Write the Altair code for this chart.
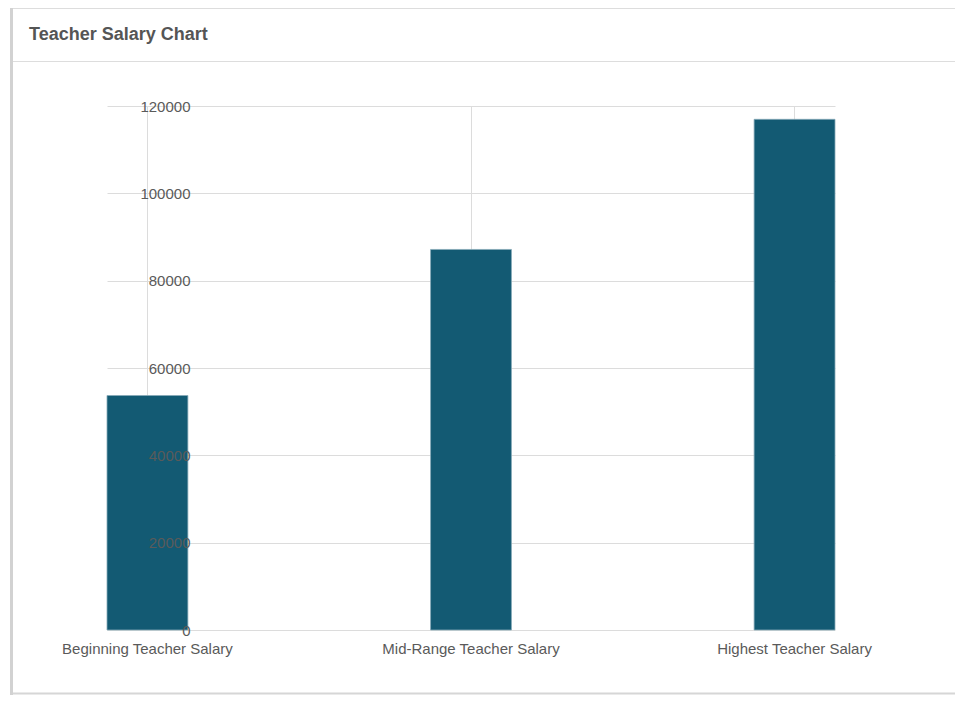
import altair as alt
import pandas as pd

categories = ["Beginning Teacher Salary", "Mid-Range Teacher Salary", "Highest Teacher Salary"]
salaries = [53700, 87150, 116950]
y_ticks = [0, 20000, 40000, 60000, 80000, 100000, 120000]
chart_title = "Teacher Salary Chart"

df = pd.DataFrame({"category": categories, "salary": salaries})

W, H = 728, 524
FONT = "Liberation Sans"
BAR = "#135A73"
GRID = "#dcdcdc"
LABEL = "#5a5a5a"

x_scale = alt.Scale(paddingInner=0.75, paddingOuter=0)
x_axis = alt.Axis(grid=True, gridColor=GRID, gridWidth=1, bandPosition=0.5,
                  domain=False, ticks=False, tickSize=0, labelAngle=0,
                  labelPadding=11, labelFontSize=15, labelColor=LABEL,
                  labelFont=FONT, zindex=0)

y_scale = alt.Scale(domain=[0, 120000], nice=False)

bars = alt.Chart(df).mark_bar(color=BAR, stroke="#86aab8", strokeWidth=0.8).encode(
    x=alt.X("category:N", sort=categories, title=None, scale=x_scale, axis=x_axis),
    y=alt.Y("salary:Q", title=None, scale=y_scale,
            axis=alt.Axis(values=y_ticks, grid=True, gridColor=GRID, labels=False,
                          domain=False, ticks=False, tickSize=0, orient="left", zindex=0)),
)

labels = alt.Chart(df).mark_bar(opacity=0).encode(
    x=alt.X("category:N", sort=categories, title=None, scale=x_scale, axis=x_axis),
    y=alt.Y("salary:Q", title=None, scale=y_scale,
            axis=alt.Axis(values=y_ticks, grid=False, labels=True, format="d",
                          domain=False, ticks=False, tickSize=0, labelPadding=-83,
                          labelFontSize=15, labelColor=LABEL, labelFont=FONT,
                          labelBaseline="middle", orient="left", zindex=1)),
)

one = alt.Data(values=[{}])

def rule(x1, x2, y1, y2, color, width):
    return alt.Chart(one).mark_rule(color=color, strokeWidth=width).encode(
        x=alt.value(x1), x2=alt.value(x2), y=alt.value(y1), y2=alt.value(y2))

frame = [
    rule(-95.5, -95.5, -98, 600, "#d2d2d2", 3),   # left panel edge
    rule(-94, 860, -97.5, -97.5, "#dddddd", 1),   # top border
    rule(-94, 860, -44.5, -44.5, "#dddddd", 1),   # header separator
    rule(-94, 860, 587.5, 587.5, "#d6d6d6", 2),   # bottom border
]

title = alt.Chart(one).mark_text(
    align="left", baseline="alphabetic", font=FONT, fontSize=18,
    fontWeight="bold", color="#555555",
).encode(x=alt.value(-78), y=alt.value(-66), text=alt.value(chart_title))

chart = alt.layer(*frame, bars, labels, title).resolve_axis(y="independent").properties(
    width=W, height=H, autosize="none",
    padding={"left": 99, "top": 98, "right": 120, "bottom": 65},
).configure_view(stroke=None)

chart.save("out.html", embed_options={"renderer": "svg", "actions": False})
